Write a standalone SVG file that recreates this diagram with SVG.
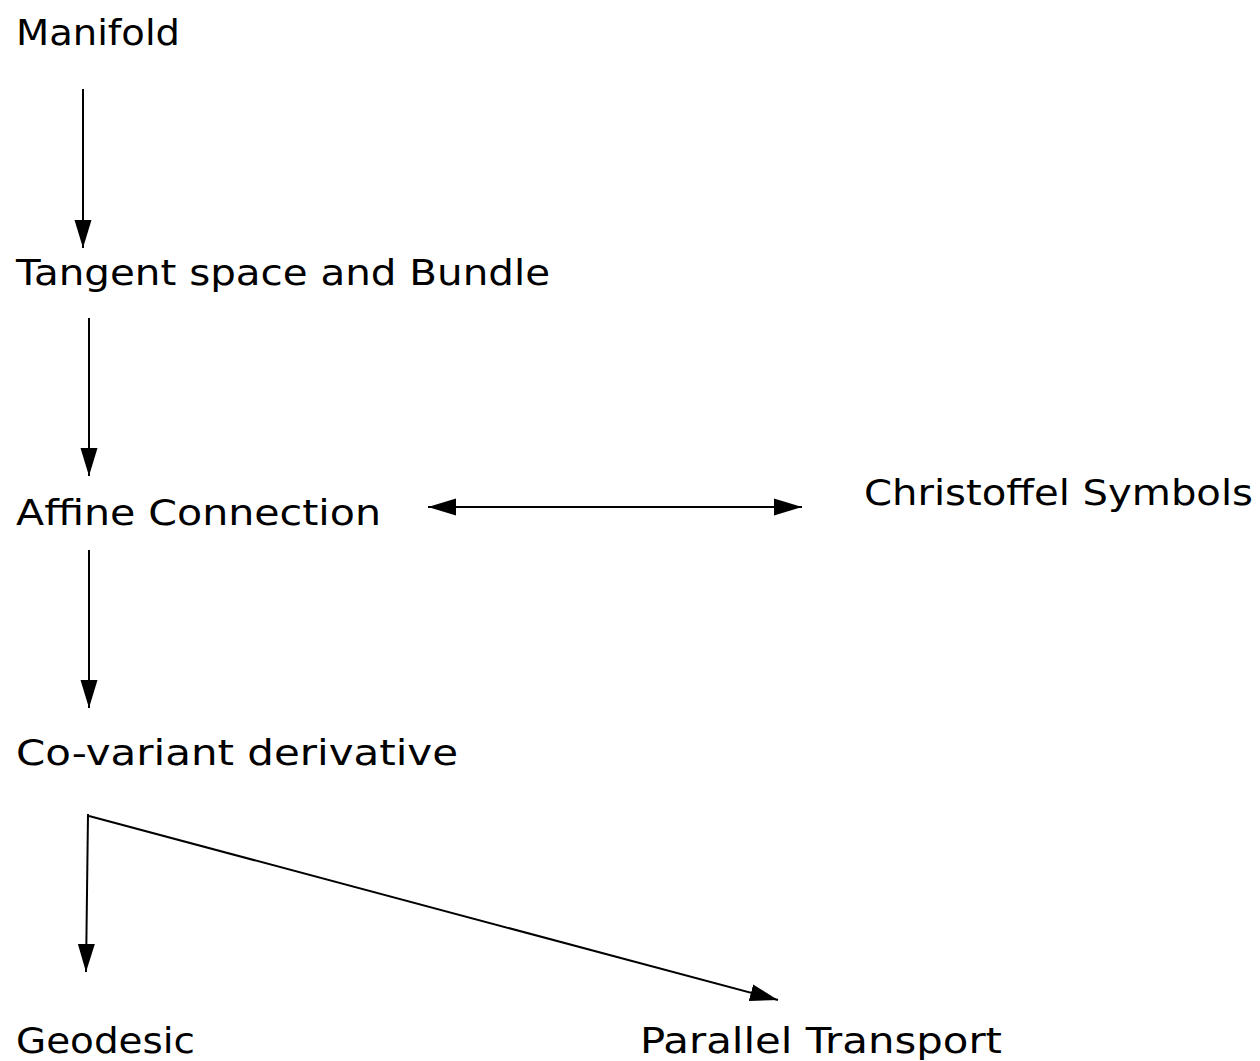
<svg xmlns="http://www.w3.org/2000/svg" width="1260" height="1061" viewBox="0 0 1260 1061">
<style>
.lbl{font-family:"DejaVu Sans","Liberation Sans",sans-serif;font-size:36px;fill:#000}
.edge{stroke:#000;stroke-width:2;fill:none}
</style>
<defs>
<marker id="ah" markerUnits="userSpaceOnUse" markerWidth="30" markerHeight="20" refX="28" refY="8.5" orient="auto-start-reverse" viewBox="0 0 30 17">
<path d="M0,0 L28,8.5 L0,17 Z" fill="#000"/>
</marker>
</defs>
<rect width="1260" height="1061" fill="#fff"/>
<g id="connectors">
<line class="edge" x1="83" y1="89" x2="83" y2="248" marker-end="url(#ah)"/>
<line class="edge" x1="89" y1="318" x2="89" y2="476" marker-end="url(#ah)"/>
<line class="edge" x1="428" y1="507" x2="802" y2="507" marker-start="url(#ah)" marker-end="url(#ah)"/>
<line class="edge" x1="89" y1="550" x2="89" y2="708" marker-end="url(#ah)"/>
<line class="edge" x1="88" y1="814" x2="86" y2="972" marker-end="url(#ah)"/>
<line class="edge" x1="89" y1="816" x2="778" y2="1000" marker-end="url(#ah)"/>
</g>
<g id="manifold"><text class="lbl" x="16" y="45" textLength="164" lengthAdjust="spacingAndGlyphs">Manifold</text></g>
<g id="tangent"><text class="lbl" x="16" y="285" textLength="534" lengthAdjust="spacingAndGlyphs">Tangent space and Bundle</text></g>
<g id="affine"><text class="lbl" x="16" y="525" textLength="365" lengthAdjust="spacingAndGlyphs">Affine Connection</text></g>
<g id="christoffel"><text class="lbl" x="864" y="505" textLength="389" lengthAdjust="spacingAndGlyphs">Christoffel Symbols</text></g>
<g id="covariant"><text class="lbl" x="16" y="765" textLength="442" lengthAdjust="spacingAndGlyphs">Co-variant derivative</text></g>
<g id="geodesic"><text class="lbl" x="16" y="1053" textLength="179" lengthAdjust="spacingAndGlyphs">Geodesic</text></g>
<g id="parallel"><text class="lbl" x="640" y="1053" textLength="362" lengthAdjust="spacingAndGlyphs">Parallel Transport</text></g>
</svg>
